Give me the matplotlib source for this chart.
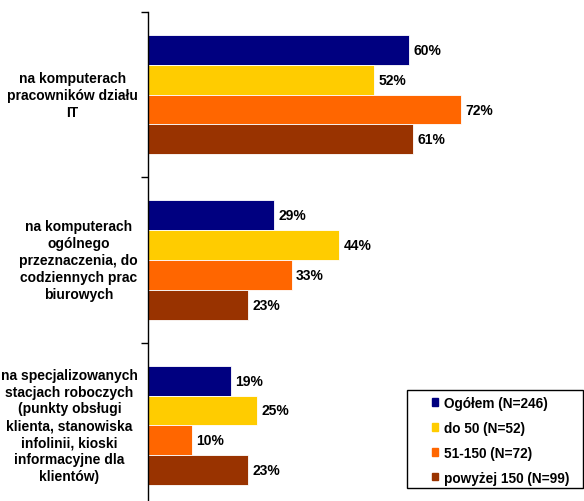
import matplotlib
matplotlib.use("Agg")
import matplotlib.pyplot as plt
from matplotlib.patches import Patch, Rectangle

plt.rcParams['font.family'] = ['Liberation Sans', 'DejaVu Sans']

categories = [
    "na komputerach\npracowników działu\nIT",
    "na komputerach\nogólnego\nprzeznaczenia, do\ncodziennych prac\nbiurowych",
    "na specjalizowanych\nstacjach roboczych\n(punkty obsługi\nklienta, stanowiska\ninfolinii, kioski\ninformacyjne dla\nklientów)",
]
series_names = ["Ogółem (N=246)", "do 50 (N=52)", "51-150 (N=72)", "powyżej 150 (N=99)"]
ogolem = [60, 29, 19]
do50 = [52, 44, 25]
s51_150 = [72, 33, 10]
powyzej150 = [61, 23, 23]
series_values = [ogolem, do50, s51_150, powyzej150]
colors = ["#000080", "#FFCC00", "#FF6600", "#993300"]

fig = plt.figure(figsize=(5.84, 5.02), dpi=100)
W, H = 584, 502
ax_left, ax_right = 148, 583
ax_top, ax_bot = 13, 509
ax = fig.add_axes([ax_left / W, (H - ax_bot) / H, (ax_right - ax_left) / W, (ax_bot - ax_top) / H])

bar_h = 0.18
offsets = [-0.27, -0.09, 0.09, 0.27]
for s, (vals, col, off) in enumerate(zip(series_values, colors, offsets)):
    ys = [i + off for i in range(len(categories))]
    ax.barh(ys, vals, height=bar_h, color=col, edgecolor="white", linewidth=0.6, label=series_names[s])
    for y, v in zip(ys, vals):
        ax.text(v + 1.0, y, f"{v}%", va="center", ha="left", fontsize=10, fontweight="bold")

ax.set_xlim(0, 100)
ax.set_ylim(2.5, -0.5)
ax.spines['top'].set_visible(False)
ax.spines['right'].set_visible(False)
ax.spines['bottom'].set_visible(False)
ax.spines['left'].set_linewidth(1.0)
ax.set_xticks([])
ax.set_yticks([-0.5, 0.5, 1.5, 2.5])
ax.set_yticklabels([])
ax.tick_params(axis='y', direction='out', length=5, width=1)

for i, cat in enumerate(categories):
    ax.text(-2.3, i, cat, ha="right", va="center", multialignment="center",
            fontsize=10, fontweight="bold", linespacing=1.26)

# legend frame drawn manually
fig.patches.append(Rectangle((407 / W, 1 - 489 / H), (583 - 407) / W, (489 - 391) / H,
                             transform=fig.transFigure, facecolor="white", edgecolor="black",
                             linewidth=1.0, zorder=5))
handles = [Patch(facecolor=c, edgecolor=c) for c in colors]
leg = fig.legend(handles, series_names, loc="upper left",
                 bbox_to_anchor=(432 / W, 1 - 397 / H), bbox_transform=fig.transFigure,
                 prop={'weight': 'bold', 'size': 9.8}, frameon=False,
                 handlelength=0.45, handleheight=0.45, handletextpad=0.45,
                 labelspacing=0.8, borderpad=0, borderaxespad=0)
leg.set_zorder(6)

fig.savefig("out.png", dpi=100)
